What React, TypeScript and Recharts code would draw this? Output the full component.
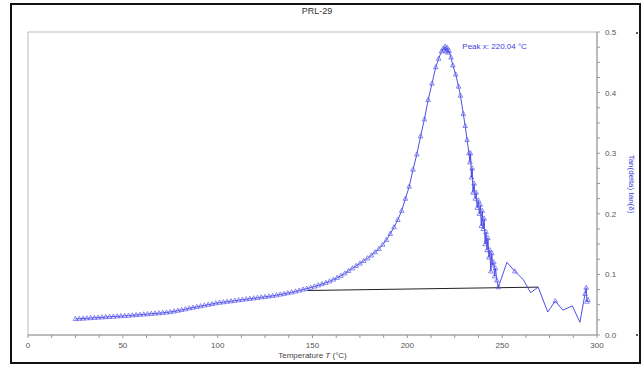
import React from 'react';
import { LineChart, Line, XAxis, YAxis, ReferenceArea, ReferenceDot } from 'recharts';

const temperatures = [
  25, 27, 29, 31, 33, 35, 37, 39, 41, 43, 45, 47, 49, 51, 53, 55, 57, 59, 61, 63,
  65, 67, 69, 71, 73, 75, 77, 79, 81, 83, 85, 87, 89, 91, 93, 95, 97, 99, 101, 103,
  105, 107, 109, 111, 113, 115, 117, 119, 121, 123, 125, 127, 129, 131, 133, 135, 137, 139, 141, 143,
  145, 147, 149, 151, 153, 155, 157, 159, 161, 163, 165, 167, 169, 171, 173, 175, 177, 179, 181, 183,
  185, 187, 189, 191, 193, 195, 197, 199, 201, 203, 205, 207, 209, 211, 213, 215, 216.5, 218, 219, 219.5,
  220, 220.5, 221, 221.5, 222, 223, 224, 225.5, 227, 228, 229.5, 230.5, 231.5, 232.5,
  233, 233.3, 233.8, 234.2, 234.6, 235.2, 235.8, 236.3, 236.8, 237.4, 238, 238.5, 239, 239.5, 240, 240.5,
  241, 241.5, 242, 242.5, 243, 243.5, 244, 244.5, 245, 245.6, 246, 246.5, 247.2, 248,
  252.5, 256.7, 261, 265, 269, 274, 278, 282, 287, 291, 293.7, 294.3, 294.7, 295.2,
];

const tanDelta = [
  0.0265, 0.0268, 0.0272, 0.0276, 0.028, 0.0284, 0.0288, 0.0292, 0.0296, 0.03, 0.0304, 0.0308, 0.0312, 0.0316, 0.032, 0.0325, 0.033, 0.0335, 0.034, 0.0345,
  0.035, 0.0355, 0.036, 0.0366, 0.0372, 0.038, 0.039, 0.0402, 0.0414, 0.0426, 0.044, 0.0452, 0.0464, 0.0476, 0.0488, 0.05, 0.0512, 0.0524, 0.0534, 0.0542,
  0.055, 0.0558, 0.0566, 0.0574, 0.0582, 0.059, 0.0598, 0.0606, 0.0614, 0.0622, 0.063, 0.0638, 0.0646, 0.0656, 0.0668, 0.068, 0.0692, 0.0704, 0.0718, 0.0734,
  0.075, 0.0766, 0.0782, 0.08, 0.082, 0.084, 0.0862, 0.0886, 0.0914, 0.0944, 0.0978, 0.1016, 0.1058, 0.11, 0.114, 0.118, 0.1222, 0.1266, 0.1314, 0.1366,
  0.142, 0.149, 0.157, 0.167, 0.178, 0.19, 0.205, 0.225, 0.245, 0.273, 0.298, 0.328, 0.356, 0.388, 0.415, 0.442, 0.456, 0.468, 0.473, 0.47,
  0.476, 0.468, 0.474, 0.466, 0.469, 0.458, 0.445, 0.43, 0.41, 0.395, 0.365, 0.345, 0.322, 0.3,
  0.285, 0.3, 0.26, 0.275, 0.235, 0.25, 0.225, 0.235, 0.21, 0.222, 0.2, 0.215, 0.18, 0.205, 0.175, 0.192,
  0.15, 0.17, 0.14, 0.16, 0.128, 0.14, 0.105, 0.135, 0.115, 0.12, 0.097, 0.11, 0.09, 0.079,
  0.12, 0.105, 0.092, 0.07, 0.079, 0.038, 0.056, 0.041, 0.048, 0.021, 0.068, 0.078, 0.055, 0.058,
];

const baselineT = [147, 269];
const baselineV = [0.0734, 0.079];

const xTicks = [0, 12.5, 25, 37.5, 50, 62.5, 75, 87.5, 100, 112.5, 125, 137.5, 150, 162.5, 175, 187.5, 200, 212.5, 225, 237.5, 250, 262.5, 275, 287.5, 300];
const xMajor = [0, 50, 100, 150, 200, 250, 300];
const yTicks = [0, 0.025, 0.05, 0.075, 0.1, 0.125, 0.15, 0.175, 0.2, 0.225, 0.25, 0.275, 0.3, 0.325, 0.35, 0.375, 0.4, 0.425, 0.45, 0.475, 0.5];
const yMajor = [0, 0.1, 0.2, 0.3, 0.4, 0.5];

const titleText = 'PRL-29';
const peakT = 220.04;
const peakV = 0.476;
const peakLabel = 'Peak x: 220.04 °C';
const yLabel = 'Tan(delta) tan(δ)';

const data = temperatures.map((t, i) => ({ t, v: tanDelta[i] }));
const baseline = baselineT.map((t, i) => ({ t, v: baselineV[i] }));

const BLUE = '#3c3ce0';
const FONT = '"Liberation Sans", Arial, sans-serif';

const Tri = (props: any) => {
  const { cx, cy, index, payload } = props;
  if (cx == null || cy == null) return <g key={index} />;
  const t = payload ? payload.t : 0;
  if (t > 248.5 && t < 293 && t !== 256.7 && t !== 278) return <g key={index} />;
  return (
    <path
      key={index}
      d={`M${cx},${cy - 2.6}L${cx + 2.3},${cy + 1.6}L${cx - 2.3},${cy + 1.6}Z`}
      fill="none"
      stroke="#5a5aec"
      strokeWidth={0.7}
    />
  );
};

const XTick = (props: any) => {
  const { x, y, payload } = props;
  if (!xMajor.includes(payload.value)) return <g />;
  return (
    <text x={x} y={y} dy={7} textAnchor="middle" fontSize={8} fill="#555" fontFamily={FONT}>
      {payload.value}
    </text>
  );
};

const YTick = (props: any) => {
  const { x, y, payload } = props;
  const major = yMajor.some((m) => Math.abs(m - payload.value) < 1e-9);
  if (!major) return <g />;
  return (
    <text x={x} y={y} dy={3} textAnchor="start" fontSize={8} fill="#555" fontFamily={FONT}>
      {payload.value.toFixed(1)}
    </text>
  );
};

export default function App() {
  return (
    <div style={{ position: 'absolute', left: 0, top: 0, width: 642, height: 369, background: '#fff', fontFamily: FONT }}>
      <div style={{ position: 'absolute', left: 10, top: 3, width: 627, height: 357, border: '2px solid #111' }} />
      <div style={{ position: 'absolute', left: 0, top: 6, width: 634, textAlign: 'center', fontSize: 9, color: '#333' }}>{titleText}</div>
      <div style={{ position: 'absolute', left: 636, top: 32, width: 2, height: 2, background: '#555' }} />
      <div style={{ position: 'absolute', left: 636, top: 334, width: 2, height: 2, background: '#555' }} />
      <div style={{ position: 'absolute', left: 0, top: 0 }}>
        <LineChart width={642} height={369} margin={{ top: 32, right: 0, bottom: 0, left: 28 }}>
          <ReferenceArea x1={0} x2={300} y1={0} y2={0.5} fill="none" stroke="#bbbbbb" strokeWidth={1} />
          <XAxis
            type="number"
            dataKey="t"
            domain={[0, 300]}
            ticks={xTicks}
            interval={0}
            height={34}
            tickSize={3}
            tickMargin={3}
            stroke="#999"
            tick={<XTick />}
            allowDataOverflow
            label={(p: any) => {
              const vb = p.viewBox;
              return (
                <text x={vb.x + vb.width / 2} y={358} textAnchor="middle" fontSize={8} fill="#444" fontFamily={FONT}>
                  Temperature <tspan fontStyle="italic">T</tspan> (°C)
                </text>
              );
            }}
          />
          <YAxis
            type="number"
            orientation="right"
            domain={[0, 0.5]}
            ticks={yTicks}
            interval={0}
            width={45}
            tickSize={3}
            tickMargin={5}
            stroke="#999"
            tick={<YTick />}
            allowDataOverflow
            label={(p: any) => (
              <text
                transform={`translate(629, 184) rotate(90)`}
                textAnchor="middle"
                fontSize={8}
                fill={BLUE}
                fontFamily={FONT}
              >
                {yLabel}
              </text>
            )}
          />
          <Line
            data={baseline}
            dataKey="v"
            type="linear"
            stroke="#222"
            strokeWidth={1}
            dot={false}
            activeDot={false}
            isAnimationActive={false}
          />
          <Line
            data={data}
            dataKey="v"
            type="linear"
            stroke={BLUE}
            strokeWidth={0.9}
            dot={<Tri />}
            activeDot={false}
            isAnimationActive={false}
          />
          <ReferenceDot
            x={peakT}
            y={peakV}
            r={1}
            fill="none"
            stroke="none"
            label={(p: any) => (
              <text x={p.viewBox.x + 18} y={p.viewBox.y + 3} fontSize={8} fill={BLUE} fontFamily={FONT}>
                {peakLabel}
              </text>
            )}
          />
        </LineChart>
      </div>
    </div>
  );
}
